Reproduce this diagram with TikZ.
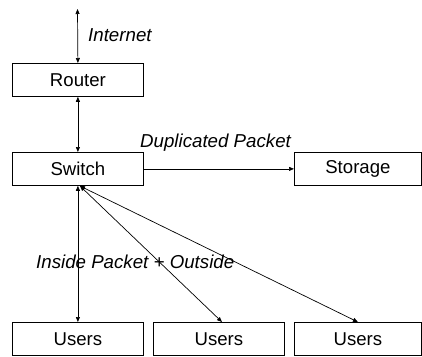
\documentclass[tikz,border=0pt]{standalone}
\usepackage{fontspec}
\setmainfont{Liberation Sans}
\usetikzlibrary{arrows.meta}
\begin{document}
\begin{tikzpicture}[x=1pt,y=-1pt,
  box/.style={draw, line width=0.8pt, anchor=north west, minimum height=33pt,
    inner sep=0pt, font=\fontsize{18.6}{20}\selectfont},
  lbl/.style={anchor=west, inner sep=0pt, font=\fontsize{18.7}{20}\selectfont\itshape},
  both/.style={line width=0.7pt, {Triangle[length=5pt,width=4pt]}-{Triangle[length=5pt,width=4pt]}},
  one/.style={line width=0.7pt, -{Triangle[length=5pt,width=4pt]}}]
\useasboundingbox (0,0) rectangle (422,356);

% boxes
\node[box, minimum width=131pt] (router)  at (12,63)  {Router};
\node[box, minimum width=131pt] (switch)  at (12,152) {Switch};
\node[box, minimum width=127pt] (storage) at (294,152) {Storage};
\node[box, minimum width=131pt] (users1)  at (12,322) {Users};
\node[box, minimum width=131pt] (users2)  at (153,322) {Users};
\node[box, minimum width=127pt] (users3)  at (294,322) {Users};

% free ends
\coordinate (inet) at (77.5,9);
\coordinate (hub) at (80,186);
\coordinate (u2top) at (222,322);

% connectors
\draw[both] (inet) -- (router.north);
\draw[both] (router.south) -- (switch.north);
\draw[one] (switch.east) -- (storage.west);
\draw[both] (switch.south) -- (users1.north);
\draw[both] (hub) -- (u2top);
\draw[both] (hub) -- (users3.north);

% labels
\node[lbl] (linet) at (88,35) {Internet};
\node[lbl] (ldup) at (140,143) {Duplicated Packet};
\node[lbl] (lins) at (36,262) {Inside Packet + Outside};
\end{tikzpicture}
\end{document}
